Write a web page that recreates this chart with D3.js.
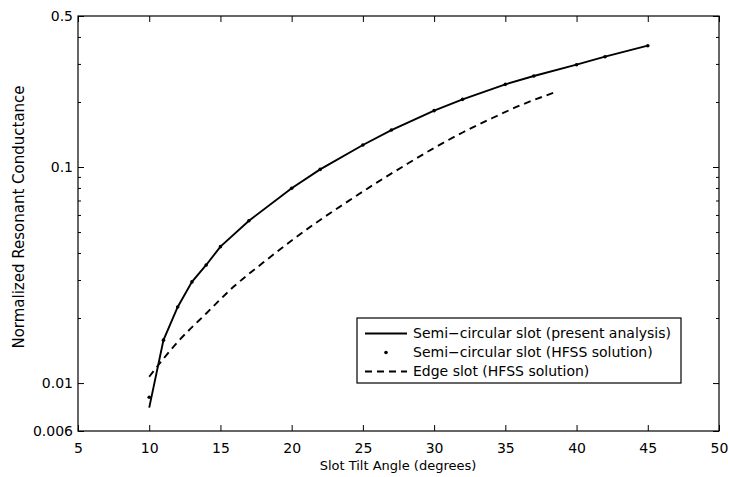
<!DOCTYPE html>
<html><head><meta charset="utf-8">
<script src="https://cdn.jsdelivr.net/npm/d3@7"></script>
<style>body{margin:0;background:#fff}svg{display:block}text{font-family:"DejaVu Sans",sans-serif}</style>
</head><body><svg id="c" width="729" height="477"></svg>
<script>
// Semi-circular slot, present analysis (solid line)
const analysisX = [10, 11, 12, 13, 14, 15, 17, 20, 22, 25, 27, 30, 32, 35, 37, 40, 42, 45];
const analysisY = [0.0077, 0.0158, 0.0225, 0.0294, 0.0352, 0.0428, 0.0564, 0.0797, 0.0975, 0.1264, 0.1483, 0.1823, 0.2057, 0.2413, 0.2637, 0.2976, 0.3241, 0.3644];
// Semi-circular slot, HFSS (dots)
const hfssX = [10, 11, 12, 13, 14, 15, 17, 20, 22, 25, 27, 30, 32, 35, 37, 40, 42, 45];
const hfssY = [0.0086, 0.0158, 0.0225, 0.0294, 0.0352, 0.0428, 0.0564, 0.0797, 0.0975, 0.1264, 0.1483, 0.1823, 0.2057, 0.2413, 0.2637, 0.2976, 0.3241, 0.3644];
// Edge slot, HFSS (dashed)
const edgeX = [10, 12, 14, 16, 18, 20, 22, 24, 26, 28, 30, 32, 34, 36, 38.6];
const edgeY = [0.0107, 0.0155, 0.0210, 0.0282, 0.0361, 0.0457, 0.0569, 0.0697, 0.0849, 0.1023, 0.1225, 0.1445, 0.1675, 0.1923, 0.2231];

const xTicks = [5, 10, 15, 20, 25, 30, 35, 40, 45, 50];
const yTicks = [0.006, 0.01, 0.1, 0.5];
const yTickLabels = ["0.006", "0.01", "0.1", "0.5"];
const yMinor = [0.02, 0.03, 0.04, 0.05, 0.06, 0.07, 0.08, 0.09, 0.2, 0.3, 0.4];
const legendLabels = ["Semi\u2212circular slot (present analysis)", "Semi\u2212circular slot (HFSS solution)", "Edge slot (HFSS solution)"];
const xLabel = "Slot Tilt Angle (degrees)";
const yLabel = "Normalized Resonant Conductance";

const L = 78, R = 719, T = 16, B = 431;
const svg = d3.select("#c");
const x = d3.scaleLinear().domain([5, 50]).range([L, R]);
const y = d3.scaleLog().domain([0.006, 0.5]).range([B, T]);
const fs = 14;
const font = '"DejaVu Sans",sans-serif';

// axes
const ax = svg.append("g").attr("transform", `translate(0,${B})`)
  .call(d3.axisBottom(x).tickValues(xTicks).tickSizeInner(-6).tickSizeOuter(0).tickPadding(12).tickFormat(d3.format("d")));
const axTop = svg.append("g").attr("transform", `translate(0,${T})`)
  .call(d3.axisTop(x).tickValues(xTicks).tickSizeInner(-6).tickSizeOuter(0).tickFormat(""));
const ay = svg.append("g").attr("transform", `translate(${L},0)`)
  .call(d3.axisLeft(y).tickValues(yTicks).tickSizeInner(-6).tickSizeOuter(0).tickPadding(5).tickFormat((d, i) => yTickLabels[i]));
const ayR = svg.append("g").attr("transform", `translate(${R},0)`)
  .call(d3.axisRight(y).tickValues(yTicks).tickSizeInner(-6).tickSizeOuter(0).tickFormat(""));
const ayMin = svg.append("g").attr("transform", `translate(${L},0)`)
  .call(d3.axisLeft(y).tickValues(yMinor).tickSizeInner(-3).tickSizeOuter(0).tickFormat(""));
const ayMinR = svg.append("g").attr("transform", `translate(${R},0)`)
  .call(d3.axisRight(y).tickValues(yMinor).tickSizeInner(-3).tickSizeOuter(0).tickFormat(""));
[ax, axTop, ay, ayR, ayMin, ayMinR].forEach(g => {
  g.select(".domain").remove();
  g.selectAll("line").attr("stroke", "#000").attr("stroke-width", 1);
  g.selectAll("text").attr("font-size", fs).attr("fill", "#000").style("font-family", font);
});
svg.append("rect").attr("x", L).attr("y", T).attr("width", R - L).attr("height", B - T)
  .attr("fill", "none").attr("stroke", "#000").attr("stroke-width", 1.2);

// lines
const line = d3.line().x(d => x(d[0])).y(d => y(d[1]));
svg.append("path").datum(analysisX.map((v, i) => [v, analysisY[i]]))
  .attr("d", line).attr("fill", "none").attr("stroke", "#000").attr("stroke-width", 1.9);
svg.append("path").datum(edgeX.map((v, i) => [v, edgeY[i]]))
  .attr("d", d3.line().curve(d3.curveMonotoneX).x(d => x(d[0])).y(d => y(d[1])))
  .attr("fill", "none").attr("stroke", "#000").attr("stroke-width", 1.9).attr("stroke-dasharray", "7,5");
svg.append("g").selectAll("circle").data(hfssX.map((v, i) => [v, hfssY[i]])).join("circle")
  .attr("cx", d => x(d[0])).attr("cy", d => y(d[1])).attr("r", 1.8).attr("fill", "#000");

// axis labels
svg.append("text").attr("x", 398).attr("y", 470).attr("text-anchor", "middle").attr("font-size", 13).text(xLabel);
svg.append("text").attr("transform", `translate(24,217) rotate(-90)`).attr("text-anchor", "middle").attr("font-size", 15).text(yLabel);

// legend
const lg = svg.append("g");
lg.append("rect").attr("x", 357).attr("y", 318).attr("width", 324).attr("height", 65)
  .attr("fill", "#fff").attr("stroke", "#000").attr("stroke-width", 1.2);
const rows = [333.5, 352.5, 371.5];
legendLabels.forEach((t, i) => {
  lg.append("text").attr("x", 413).attr("y", rows[i]).attr("dy", "0.35em").attr("font-size", fs).text(t);
});
lg.append("line").attr("x1", 365).attr("x2", 407).attr("y1", rows[0]).attr("y2", rows[0]).attr("stroke", "#000").attr("stroke-width", 1.9);
lg.append("circle").attr("cx", 386).attr("cy", rows[1]).attr("r", 1.8).attr("fill", "#000");
lg.append("line").attr("x1", 365).attr("x2", 407).attr("y1", rows[2]).attr("y2", rows[2]).attr("stroke", "#000").attr("stroke-width", 1.9).attr("stroke-dasharray", "7,5");
</script></body></html>
